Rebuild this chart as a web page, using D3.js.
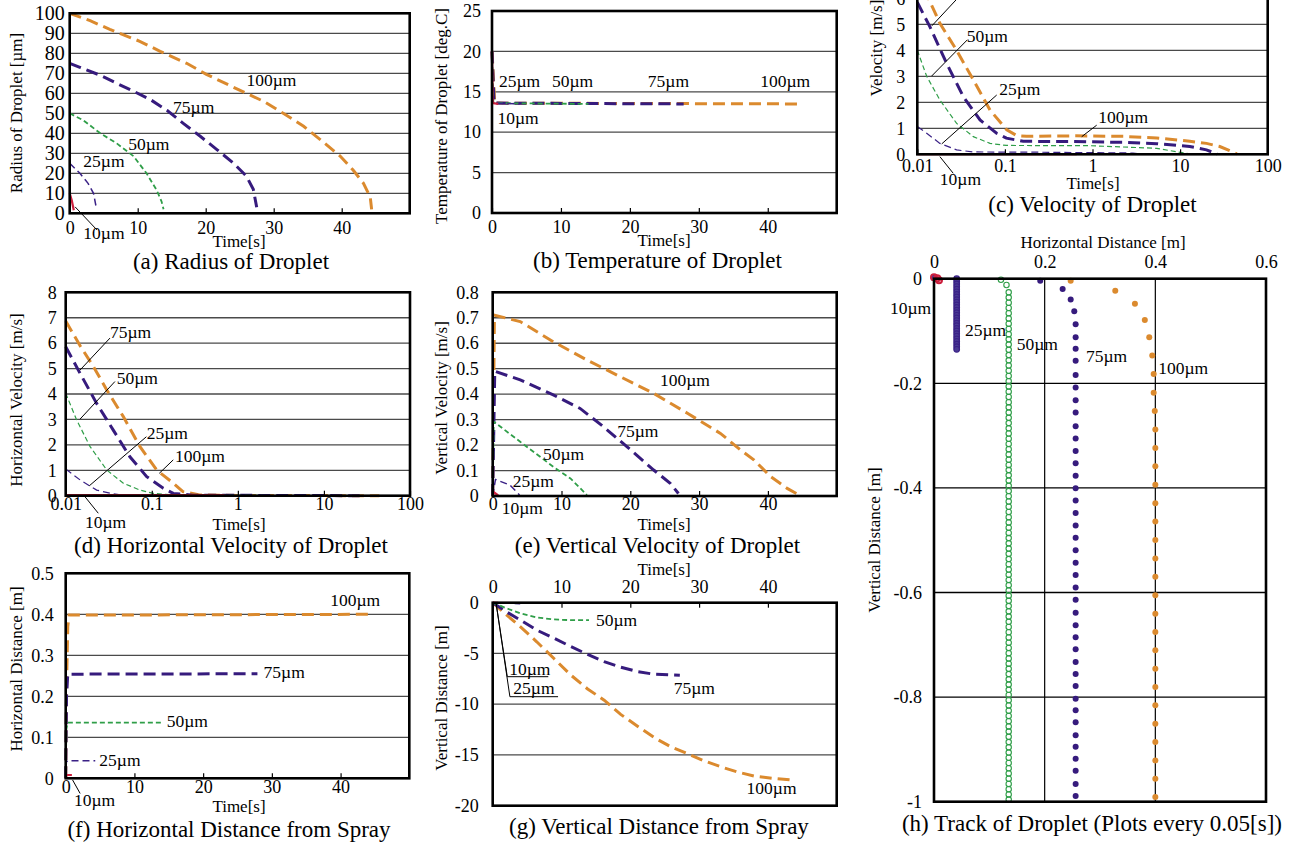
<!DOCTYPE html>
<html>
<head>
<meta charset="utf-8">
<script src="https://cdn.jsdelivr.net/npm/d3@7"></script>
<style>
  body { margin: 0; background: #fff; }
  svg { display: block; }
</style>
</head>
<body>
<script>
const W = 1295, H = 846;
const FONT = "'Liberation Serif', 'Times New Roman', serif";

// draw order: big droplets first, 10µm on top
const sizes = ["100µm", "75µm", "50µm", "25µm", "10µm"];

// tick values
const radiusTicks = [0, 10, 20, 30, 40, 50, 60, 70, 80, 90, 100];
const timeTicks = [0, 10, 20, 30, 40];
const tempTicks = [0, 5, 10, 15, 20, 25];
const velTicks = [0, 1, 2, 3, 4, 5, 6, 7, 8];
const velShownTicks = [0, 1, 2, 3, 4, 5, 6];   // (c) is cropped at the top
const logTimeTicks = [0.01, 0.1, 1, 10, 100];
const vvelTicks = [0, 0.1, 0.2, 0.3, 0.4, 0.5, 0.6, 0.7, 0.8];
const hdistTicks = [0, 0.1, 0.2, 0.3, 0.4, 0.5];
const vdistTicks = [0, -5, -10, -15, -20];
const trackXTicks = [0, 0.2, 0.4, 0.6];
const trackYTicks = [0, -0.2, -0.4, -0.6, -0.8, -1];

// (a) radius of droplet [µm] vs time [s]
const radius = {
  "10µm": [[0, 10], [0.3, 6.5], [0.6, 1.5]],
  "25µm": [[0, 25], [1.5, 20], [2.7, 15], [3.5, 10], [3.9, 3]],
  "50µm": [[0, 50], [2, 46.5], [4.5, 40], [6.9, 35], [9.4, 28.5], [11.3, 20], [12.8, 11.5], [13.5, 6], [13.8, 2]],
  "75µm": [[0, 75], [1.5, 73], [4.5, 69], [6.9, 65], [9.4, 61], [11.8, 57], [14.3, 51.5], [16.7, 45], [19.2, 38.5],
           [21.6, 32], [24.1, 25], [26, 18.5], [27, 12], [27.5, 3]],
  "100µm": [[0, 100], [3, 96.3], [5.9, 92], [10.3, 86], [13.3, 81], [17.2, 75], [20.1, 69.5], [24.1, 63], [28.5, 56],
            [31.4, 50], [34.4, 43.5], [36.8, 37], [39.8, 28.5], [41.7, 21.5], [43.2, 15], [44.2, 8], [44.4, 2]]
};

// (b) temperature [deg.C] vs time [s]
const temperature = {
  "10µm": [[0, 20], [0.1, 13.6], [0.9, 13.5]],
  "25µm": [[0, 20], [0.15, 13.6], [4, 13.5]],
  "50µm": [[0, 20], [0.2, 13.6], [14, 13.5]],
  "75µm": [[0, 20], [0.3, 13.6], [27.8, 13.5]],
  "100µm": [[0, 20], [0.4, 13.6], [44.8, 13.5]]
};

// (c) velocity [m/s] vs time [s] (log time)
const velocity = {
  "10µm": [[0.01, 0.01], [0.66, 0.01]],
  "25µm": [[0.01, 1.07], [0.0128, 0.81], [0.0181, 0.42], [0.0281, 0.17], [0.0436, 0.09], [0.25, 0.08], [2.9, 0.05], [3.6, 0.01]],
  "50µm": [[0.01, 4.0], [0.0128, 3.0], [0.0181, 2.09], [0.0281, 1.19], [0.0436, 0.68], [0.0676, 0.42], [0.104, 0.34],
           [0.935, 0.33], [5.4, 0.23], [9.1, 0.1], [13.5, 0.01]],
  "75µm": [[0.01, 5.85], [0.0139, 4.91], [0.0216, 3.5], [0.0335, 2.22], [0.052, 1.32], [0.0804, 0.81], [0.104, 0.62],
           [0.162, 0.5], [0.6, 0.49], [2.25, 0.46], [5.4, 0.41], [12.9, 0.3], [20, 0.17], [26.5, 0.01]],
  "100µm": [[0.01, 7], [0.0134, 6.0], [0.0181, 5.04], [0.0281, 4.0], [0.0436, 2.86], [0.0676, 1.7], [0.105, 0.94],
            [0.136, 0.72], [0.177, 0.69], [0.6, 0.71], [2.25, 0.69], [5.4, 0.63], [12.9, 0.5], [20, 0.42], [28.4, 0.3], [44.5, 0.02]]
};

// (d) horizontal velocity [m/s] vs time [s] (log time)
const hVelocity = {
  "10µm": [[0.01, 0.02], [0.7, 0.02]],
  "25µm": [[0.01, 1.05], [0.0147, 0.62], [0.0229, 0.22], [0.0357, 0.07], [0.051, 0.01], [3.9, 0]],
  "50µm": [[0.01, 4.03], [0.0134, 2.98], [0.0192, 1.93], [0.03, 1.01], [0.0467, 0.49], [0.073, 0.22], [0.104, 0.09],
           [0.2, 0.02], [13.5, 0]],
  "75µm": [[0.01, 5.86], [0.0147, 4.81], [0.0229, 3.63], [0.0357, 2.58], [0.0557, 1.53], [0.0873, 0.75], [0.136, 0.29],
           [0.178, 0.09], [0.3, 0.02], [26, 0]],
  "100µm": [[0.01, 6.87], [0.0147, 5.9], [0.021, 5.08], [0.03, 4.16], [0.0467, 3.11], [0.073, 1.93], [0.114, 1.01],
            [0.178, 0.49], [0.23, 0.16], [0.36, 0.03], [1, 0.01], [44, 0]]
};

// (e) vertical velocity [m/s] vs time [s]
const vVelocity = {
  "10µm": [[0, 0], [0.15, 0.015], [0.8, 0.002]],
  "25µm": [[0, 0], [0.4, 0.065], [2.5, 0.043], [3.9, 0.004]],
  "50µm": [[0, 0], [0.15, 0.292], [4, 0.213], [8.8, 0.115], [11.3, 0.069], [13.7, 0.004]],
  "75µm": [[0, 0], [0.3, 0.49], [4, 0.456], [8.8, 0.397], [12.7, 0.344], [16.1, 0.272], [19.5, 0.194], [23.4, 0.102],
           [25.8, 0.05], [27, 0.01]],
  "100µm": [[0, 0], [0.25, 0.71], [4, 0.685], [8.8, 0.606], [13.7, 0.534], [18.5, 0.469], [23.4, 0.403], [28.3, 0.325],
            [33.1, 0.246], [36, 0.181], [38, 0.141], [40.4, 0.076], [42.8, 0.03], [44.8, 0]]
};

// (f) horizontal distance [m] vs time [s]
const hDistance = {
  "10µm": [[0, 0], [0.1, 0.008], [0.9, 0.008]],
  "25µm": [[0, 0], [0.1, 0.04], [0.3, 0.043], [4.3, 0.043]],
  "50µm": [[0, 0], [0.1, 0.12], [0.3, 0.136], [14, 0.136]],
  "75µm": [[0, 0], [0.12, 0.2], [0.3, 0.254], [27.9, 0.255]],
  "100µm": [[0, 0], [0.15, 0.25], [0.3, 0.37], [0.5, 0.398], [44.8, 0.4]]
};

// (g) vertical distance [m] vs time [s]
const vDistance = {
  "10µm": [[0, 0], [0.8, -0.01]],
  "25µm": [[0, 0], [2, -0.05], [4, -0.1]],
  "50µm": [[0, 0], [2, -0.55], [4, -1.05], [6.4, -1.45], [8.9, -1.65], [11.3, -1.72], [14, -1.72]],
  "75µm": [[0, 0], [2, -0.9], [4, -1.7], [6.4, -2.7], [8.9, -3.5], [11.3, -4.3], [13.8, -5.1], [16.2, -5.8],
           [18.6, -6.35], [21.1, -6.8], [23.5, -7.05], [27.2, -7.15]],
  "100µm": [[0, 0], [2, -1.2], [4, -2.35], [6.4, -3.85], [8.9, -5.5], [11.3, -7.1], [13.8, -8.5], [16.2, -9.6],
            [18.6, -11.0], [21.1, -12.2], [23.5, -13.3], [25.9, -14.2], [28.4, -14.9], [30.8, -15.6], [33.3, -16.2],
            [35.7, -16.7], [38.1, -17.1], [40.6, -17.3], [44, -17.5]]
};

// (h) track of droplet: [horizontal m, vertical m], one plot every 0.05 s
const track10 = [[0.0, 0.003], [0.006, 0.001], [0.009, -0.003]];
const track25Start = [[0.0, 0.002]];
const track25X = 0.041;
const track25Y = [0, -0.005, -0.01, -0.015, -0.02, -0.025, -0.03, -0.035, -0.04, -0.045, -0.05, -0.055, -0.06, -0.065,
  -0.07, -0.075, -0.08, -0.085, -0.09, -0.095, -0.1, -0.105, -0.11, -0.115, -0.12, -0.125, -0.13, -0.135];
const track50Start = [[0.121, -0.002], [0.131, -0.012]];
const track50X = 0.135;
const track50Y = [
  -0.026, -0.036, -0.046, -0.056, -0.066, -0.076, -0.086, -0.096, -0.106, -0.116,
  -0.126, -0.136, -0.146, -0.156, -0.166, -0.176, -0.186, -0.196, -0.206, -0.216,
  -0.226, -0.236, -0.246, -0.256, -0.266, -0.276, -0.286, -0.296, -0.306, -0.316,
  -0.326, -0.336, -0.346, -0.356, -0.366, -0.376, -0.386, -0.396, -0.406, -0.416,
  -0.426, -0.436, -0.446, -0.456, -0.466, -0.476, -0.486, -0.496, -0.506, -0.516,
  -0.526, -0.536, -0.546, -0.556, -0.566, -0.576, -0.586, -0.596, -0.606, -0.616,
  -0.626, -0.636, -0.646, -0.656, -0.666, -0.676, -0.686, -0.696, -0.706, -0.716,
  -0.726, -0.736, -0.746, -0.756, -0.766, -0.776, -0.786, -0.796, -0.806, -0.816,
  -0.826, -0.836, -0.846, -0.856, -0.866, -0.876, -0.886, -0.896, -0.906, -0.916,
  -0.926, -0.936, -0.946, -0.956, -0.966, -0.976, -0.986, -0.996];
const track75Start = [[0.192, -0.004], [0.2325, -0.0197], [0.247, -0.04], [0.2535, -0.062]];
const track75X = 0.256;
const track75Y = [-0.087, -0.112, -0.134, -0.157, -0.184, -0.208, -0.2325, -0.256, -0.282, -0.3057, -0.3294, -0.3531,
  -0.3769, -0.4006, -0.4243, -0.448, -0.4717, -0.4954, -0.5191, -0.5429, -0.5666, -0.5903, -0.614, -0.6385, -0.6627,
  -0.6857, -0.7087, -0.733, -0.756, -0.779, -0.803, -0.825, -0.848, -0.873, -0.895, -0.918, -0.941, -0.966, -0.989];
const track100Start = [[0.247, -0.004], [0.3276, -0.023], [0.3631, -0.048], [0.381, -0.079], [0.389, -0.112],
  [0.3944, -0.147], [0.397, -0.182], [0.397, -0.218], [0.399, -0.253]];
const track100X = 0.4;
const track100Y = [-0.2882, -0.3235, -0.3587, -0.394, -0.4292, -0.4644, -0.4997, -0.5349, -0.5701, -0.6053, -0.6405,
  -0.6755, -0.7105, -0.7457, -0.7807, -0.8157, -0.851, -0.886, -0.921, -0.956, -0.991];

// series labels [text, x, y] in data units, leader lines as data-unit polylines
const radiusLabels = [["100µm", 26.0, 63.6], ["75µm", 15.2, 50.1], ["50µm", 8.6, 31.6], ["25µm", 2.0, 23.1], ["10µm", 2.0, -12.8]];
const radiusLeaders = [[[0.8, 3.2], [4.0, -8.3]]];
const tempLabels = [["25µm", 1.0, 15.6], ["50µm", 8.7, 15.6], ["75µm", 22.6, 15.6], ["100µm", 38.9, 15.6], ["10µm", 0.8, 11.0]];
// the 75µm label of (c) sits above the cropped top edge, only its leader shows
const velLabels = [["50µm", 0.0366, 4.32], ["25µm", 0.0863, 2.28], ["100µm", 1.164, 1.19], ["10µm", 0.0181, -1.18]];
const velLeaders = [[[0.01466, 4.94], [0.0327, 6.2]], [[0.01459, 3.01], [0.0372, 4.4]], [[0.019, 0.4], [0.0806, 2.28]],
  [[0.753, 0.677], [1.116, 1.12]], [[0.0181, -0.09], [0.0257, -0.73]]];
const hVelLabels = [["75µm", 0.0327, 6.2], ["50µm", 0.0391, 4.4], ["25µm", 0.0873, 2.23], ["100µm", 0.1859, 1.33], ["10µm", 0.01675, -1.27]];
const hVelLeaders = [[[0.01466, 4.94], [0.0327, 6.2]], [[0.01466, 3.01], [0.0373, 4.49]], [[0.0188, 0.39], [0.0866, 2.32]],
  [[0.1222, 0.88], [0.1777, 1.41]], [[0.01675, -0.04], [0.0239, -0.69]]];
const vVelLabels = [["100µm", 24.3, 0.432], ["75µm", 18.1, 0.232], ["50µm", 7.3, 0.141], ["25µm", 2.9, 0.035], ["10µm", 1.3, -0.071]];
const hDistLabels = [["100µm", 38.5, 0.42], ["75µm", 28.8, 0.245], ["50µm", 14.7, 0.125], ["25µm", 4.9, 0.03], ["10µm", 1.2, -0.067]];
const hDistLeaders = [[[1.0, -0.004], [2.1, -0.037]]];
const vDistLabels = [["50µm", 15.0, -2.3], ["75µm", 26.3, -9.0], ["100µm", 36.9, -18.85], ["10µm", 2.4, -7.12], ["25µm", 3.0, -9.0]];
const vDistLeaders = [[[0.48, 0], [2.12, -7.29], [8.08, -7.29]], [[0.48, 0], [2.5, -9.26], [9.5, -9.26]]];
const trackLabels = [["10µm", -0.0795, -0.0675], ["25µm", 0.056, -0.1096], ["50µm", 0.1494, -0.1363], ["75µm", 0.2746, -0.1593], ["100µm", 0.4052, -0.1822]];

// line styles
const style = {
  "100µm": { color: "#db8a2e", width: 3, dash: "12,6" },
  "75µm": { color: "#361b7d", width: 3, dash: "12,6" },
  "50µm": { color: "#2f9e48", width: 1.8, dash: "5,3" },
  "25µm": { color: "#3a2186", width: 1.5, dash: "7,4" },
  "10µm": { color: "#cc1f3d", width: 2.2, dash: null }
};

const fmt = d => String(+d.toFixed(2));

const svg = d3.select("body").append("svg")
  .attr("width", W)
  .attr("height", H)
  .attr("font-family", FONT);

function drawPanel(p) {
  const x = (p.log ? d3.scaleLog() : d3.scaleLinear()).domain(p.xd).range(p.xr);
  const y = d3.scaleLinear().domain(p.yd).range(p.yr);
  const g = svg.append("g");
  const left = p.xr[0], right = p.xr[1];
  const top = Math.min(p.yr[0], p.yr[1]), bottom = Math.max(p.yr[0], p.yr[1]);

  // grid
  g.append("g").selectAll("line")
    .data(p.yTicks.slice(1, -1))
    .join("line")
    .attr("x1", left).attr("x2", right)
    .attr("y1", d => y(d)).attr("y2", d => y(d))
    .attr("stroke", p.gridColor || "#4a4a4a")
    .attr("stroke-width", 1.3);
  if (p.xGrid) {
    g.append("g").selectAll("line")
      .data(p.xGrid)
      .join("line")
      .attr("x1", d => x(d)).attr("x2", d => x(d))
      .attr("y1", top).attr("y2", bottom)
      .attr("stroke", "#000")
      .attr("stroke-width", 1.2);
  }

  // series lines
  if (p.data) {
    const line = d3.line().x(d => x(d[0])).y(d => y(d[1]));
    sizes.forEach(s => {
      const st = style[s];
      let w = st.width;
      if (p.log && (s === "50µm" || s === "25µm")) w = 1.2;
      g.append("path")
        .datum(p.data[s])
        .attr("d", line)
        .attr("fill", "none")
        .attr("stroke", st.color)
        .attr("stroke-width", w)
        .attr("stroke-dasharray", st.dash);
    });
  }
  if (p.points) p.points(g, x, y);

  // frame
  g.append("rect")
    .attr("x", left).attr("y", top)
    .attr("width", right - left).attr("height", bottom - top)
    .attr("fill", "none")
    .attr("stroke", "#000")
    .attr("stroke-width", 2.6);

  // axes
  const ya = g.append("g")
    .attr("transform", `translate(${left},0)`)
    .call(d3.axisLeft(y).tickValues(p.yLabelTicks || p.yTicks).tickFormat(fmt).tickSize(0).tickPadding(p.yPad));
  ya.select(".domain").remove();
  ya.attr("font-size", p.yFont || 18).attr("font-family", FONT);
  ya.selectAll("text").attr("fill", "#000");

  const xAxis = (p.top ? d3.axisTop(x) : d3.axisBottom(x))
    .tickValues(p.xTicks).tickFormat(fmt)
    .tickSizeInner(p.xTick === undefined ? -5 : p.xTick).tickSizeOuter(0)
    .tickPadding(p.xPad);
  const xa = g.append("g")
    .attr("transform", `translate(0,${p.top ? top : bottom})`)
    .call(xAxis);
  xa.select(".domain").remove();
  xa.attr("font-size", 18).attr("font-family", FONT);
  xa.selectAll("text").attr("fill", "#000");
  xa.selectAll("line").attr("stroke", "#000").attr("stroke-width", 1.2);

  // axis titles and caption
  g.append("text")
    .attr("transform", `translate(${p.yTitle[1]},${p.yTitle[2]}) rotate(-90)`)
    .attr("text-anchor", "middle").attr("dy", "0.35em")
    .attr("font-size", 17)
    .text(p.yTitle[0]);
  g.append("text")
    .attr("x", p.xTitle[1]).attr("y", p.xTitle[2])
    .attr("text-anchor", "middle").attr("font-size", 17)
    .text(p.xTitle[0]);
  g.append("text")
    .attr("x", p.caption[1]).attr("y", p.caption[2])
    .attr("text-anchor", "middle").attr("font-size", 23)
    .text(p.caption[0]);

  // series labels and leaders
  g.append("g").selectAll("text")
    .data(p.labels)
    .join("text")
    .attr("x", d => x(d[1]))
    .attr("y", d => y(d[2]))
    .attr("font-size", 17.5)
    .text(d => d[0]);
  if (p.leaders) {
    const lp = d3.line().x(d => x(d[0])).y(d => y(d[1]));
    g.append("g").selectAll("path")
      .data(p.leaders)
      .join("path")
      .attr("d", lp)
      .attr("fill", "none")
      .attr("stroke", "#000")
      .attr("stroke-width", 1);
  }
}

drawPanel({
  data: radius, xd: [0, 50], xr: [69.7, 409.7], yd: [0, 100], yr: [213.3, 13.3],
  yTicks: radiusTicks, xTicks: timeTicks, yPad: 5, xPad: 8, yFont: 20,
  yTitle: ["Radius of Droplet [µm]", 16, 113], xTitle: ["Time[s]", 239, 247],
  caption: ["(a) Radius of Droplet", 231, 269],
  labels: radiusLabels, leaders: radiusLeaders
});

drawPanel({
  data: temperature, xd: [0, 50], xr: [492, 836.7], yd: [0, 25], yr: [213, 11],
  yTicks: tempTicks, xTicks: timeTicks, yPad: 11, xPad: 7,
  yTitle: ["Temperature of Droplet [deg.C]", 441, 116], xTitle: ["Time[s]", 664, 246],
  caption: ["(b) Temperature of Droplet", 657.5, 268],
  labels: tempLabels
});

drawPanel({
  data: velocity, log: true, xd: [0.01, 100], xr: [917.3, 1267.7], yd: [0, 8], yr: [154.3, -53.7],
  yTicks: velTicks, yLabelTicks: velShownTicks, xTicks: logTimeTicks, yPad: 12, xPad: 5,
  yTitle: ["Velocity [m/s]", 876, 48], xTitle: ["Time[s]", 1093, 188.5],
  caption: ["(c) Velocity of Droplet", 1092.5, 212],
  labels: velLabels, leaders: velLeaders
});

drawPanel({
  data: hVelocity, log: true, xd: [0.01, 100], xr: [65.7, 410], yd: [0, 8], yr: [495.7, 292.3],
  yTicks: velTicks, xTicks: logTimeTicks, yPad: 9, xPad: 2,
  yTitle: ["Horizontal Velocity [m/s]", 16, 400], xTitle: ["Time[s]", 239, 530],
  caption: ["(d) Horizontal Velocity of Droplet", 231, 553],
  labels: hVelLabels, leaders: hVelLeaders
});

drawPanel({
  data: vVelocity, xd: [0, 50], xr: [492.7, 836.7], yd: [0, 0.8], yr: [496, 292.3],
  yTicks: vvelTicks, xTicks: timeTicks, yPad: 14, xPad: 1,
  yTitle: ["Vertical Velocity [m/s]", 441, 398], xTitle: ["Time[s]", 664, 529.5],
  caption: ["(e) Vertical Velocity of Droplet", 657.5, 553],
  labels: vVelLabels
});

drawPanel({
  data: hDistance, xd: [0, 50], xr: [65.7, 409.3], yd: [0, 0.5], yr: [778.3, 573.3],
  yTicks: hdistTicks, xTicks: timeTicks, yPad: 12, xPad: 2,
  yTitle: ["Horizontal Distance [m]", 16, 669], xTitle: ["Time[s]", 239, 812],
  caption: ["(f) Horizontal Distance from Spray", 229, 837],
  labels: hDistLabels, leaders: hDistLeaders
});

drawPanel({
  data: vDistance, top: true, xd: [0, 50], xr: [492.7, 836.7], yd: [0, -20], yr: [602.7, 805.7],
  yTicks: vdistTicks, xTicks: timeTicks, yPad: 14, xPad: 10,
  yTitle: ["Vertical Distance [m]", 441, 698], xTitle: ["Time[s]", 664, 575],
  caption: ["(g) Vertical Distance from Spray", 659, 834],
  labels: vDistLabels, leaders: vDistLeaders
});

// build the track point table from the named arrays
const trackSeries = [
  { pts: track50Start.concat(track50Y.map(v => [track50X, v])), color: style["50µm"].color, fill: "none", r: 2.7, sw: 1.1 },
  { pts: track75Start.concat(track75Y.map(v => [track75X, v])), color: style["75µm"].color, fill: style["75µm"].color, r: 3, sw: 0 },
  { pts: track100Start.concat(track100Y.map(v => [track100X, v])), color: style["100µm"].color, fill: style["100µm"].color, r: 3, sw: 0 },
  { pts: track25Start.concat(track25Y.map(v => [track25X, v])), color: style["25µm"].color, fill: "#4a3a94", r: 2.8, sw: 1.2 },
  { pts: track10, color: style["10µm"].color, fill: "none", r: 3, sw: 2 }
];

drawPanel({
  top: true, xd: [0, 0.6], xr: [934, 1266], yd: [0, -1], yr: [278.7, 801.7],
  yTicks: trackYTicks, xTicks: trackXTicks, xGrid: [0.2, 0.4], gridColor: "#000", xTick: 0,
  yPad: 12, xPad: 10.5,
  yTitle: ["Vertical Distance [m]", 874, 540], xTitle: ["Horizontal Distance [m]", 1103, 248],
  caption: ["(h) Track of Droplet (Plots every 0.05[s])", 1092, 831],
  labels: trackLabels,
  points: (g, x, y) => {
    trackSeries.forEach(s => {
      g.append("g").selectAll("circle")
        .data(s.pts)
        .join("circle")
        .attr("cx", d => x(d[0]))
        .attr("cy", d => y(d[1]))
        .attr("r", s.r)
        .attr("fill", s.fill)
        .attr("stroke", s.sw ? s.color : "none")
        .attr("stroke-width", s.sw);
    });
  }
});
</script>
</body>
</html>
